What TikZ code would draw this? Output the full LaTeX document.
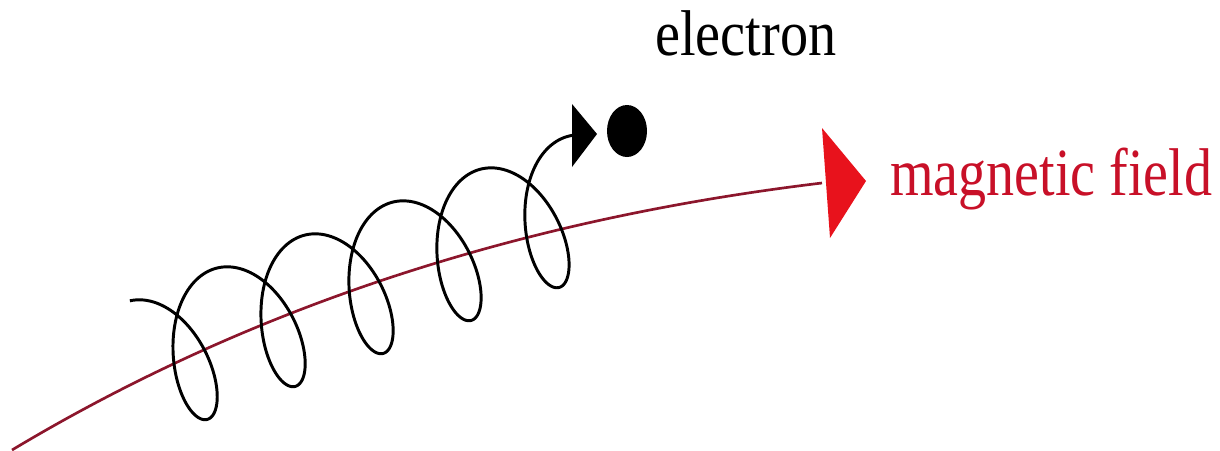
\documentclass[tikz,border=0pt]{standalone}
\usepackage{fontspec}
\setmainfont{Liberation Serif}
\usetikzlibrary{shapes.geometric}
\definecolor{fieldred}{RGB}{140,22,44}
\definecolor{headred}{RGB}{232,18,28}
\definecolor{labelred}{RGB}{200,16,40}
\tikzset{
  fieldline/.style={line width=1.9pt, draw=fieldred},
  fieldhead/.style={fill=headred},
  orbit/.style={line width=2.1pt, draw=black, line join=round},
  orbithead/.style={fill=black},
  electrondot/.style={ellipse, fill=black, inner sep=0pt, minimum width=1cm, minimum height=1.3cm},
  blacklabel/.style={font=\fontsize{46}{54}\selectfont, xscale=0.87, transform shape, inner sep=0pt},
  redlabel/.style={font=\fontsize{48}{56}\selectfont, text=labelred, xscale=0.83, transform shape, inner sep=0pt},
}
\begin{document}
\begin{tikzpicture}[x=0.025cm,y=-0.025cm]
\useasboundingbox (0,0) rectangle (1220,450);
% field line and its head
\coordinate (fieldstart) at (12,450);
\coordinate (fieldend) at (822,183);
\draw[fieldline] (fieldstart) .. controls (248,308.5) and (518,219.5) .. (fieldend);
\fill[fieldhead] (fieldend) ++(0,-55) -- ++(44,53) -- ++(-36,57) -- cycle;
% spiral path of the electron
\draw[orbit] plot[domain=-6.38:25.08, samples=600, smooth, variable=\t]
  ({235+14*\t+40*sin(\t r)-12*cos(\t r)}, {335-5.25*\t-68*cos(\t r)});
\coordinate (orbitend) at (572,135);
\fill[orbithead] (orbitend) ++(0,-31) -- ++(25,30) -- ++(-25,33) -- cycle;
\node[electrondot] (electron) at (627,131) {};
% labels
\node[blacklabel, anchor=base west] (electronlabel) at (655,55) {electron};
\node[redlabel, anchor=base west] (fieldlabel) at (890,195) {magnetic field};
\end{tikzpicture}
\end{document}
